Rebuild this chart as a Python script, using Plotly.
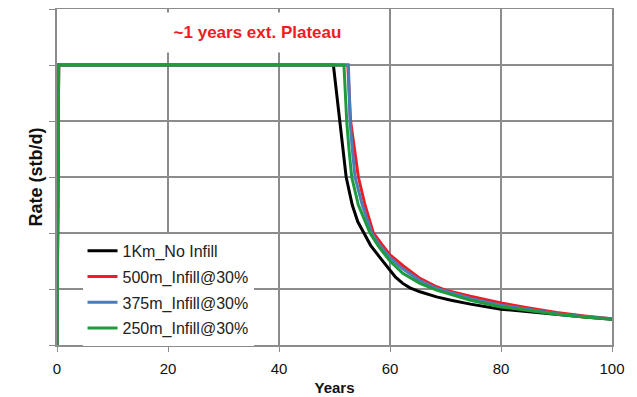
import plotly.graph_objects as go

# ---- data ----
names = ["1Km_No Infill", "500m_Infill@30%", "375m_Infill@30%", "250m_Infill@30%"]
colors = ["#000000", "#EE1C25", "#4A7EBB", "#1E9B3C"]

black_x = [0, 0.3, 49.8, 50.4, 51.0, 52.1, 53.2, 54.2, 55.3, 56.5, 58.2, 60.0, 61.0, 62.3, 63.6, 65.4, 68.4, 71.0, 74.5, 80.0, 85.0, 90.0, 95.0, 100.0]
black_y = [0, 5.0, 5.0, 4.5, 4.0, 3.0, 2.5, 2.2, 2.0, 1.78, 1.56, 1.33, 1.21, 1.10, 1.02, 0.95, 0.86, 0.80, 0.73, 0.64, 0.59, 0.54, 0.50, 0.46]

red_x = [0, 0.3, 52.4, 52.9, 53.6, 54.3, 55.5, 57.0, 58.5, 60.0, 62.3, 65.4, 68.4, 70.0, 74.5, 80.0, 85.0, 90.0, 95.0, 100.0]
red_y = [0, 5.0, 5.0, 4.0, 3.5, 3.0, 2.5, 2.0, 1.8, 1.61, 1.42, 1.19, 1.04, 0.98, 0.87, 0.75, 0.66, 0.58, 0.52, 0.47]

blue_x = [0, 0.3, 52.5, 52.8, 53.2, 53.7, 55.0, 56.7, 58.0, 60.0, 62.3, 65.4, 68.4, 70.0, 74.5, 80.0, 85.0, 90.0, 95.0, 100.0]
blue_y = [0, 5.0, 5.0, 4.0, 3.5, 3.0, 2.5, 2.0, 1.8, 1.56, 1.36, 1.15, 1.01, 0.96, 0.83, 0.71, 0.63, 0.56, 0.51, 0.47]

green_x = [0, 0.3, 51.7, 52.2, 52.6, 53.1, 54.3, 56.4, 58.0, 60.0, 62.3, 65.4, 68.4, 70.0, 74.5, 80.0, 85.0, 90.0, 95.0, 100.0]
green_y = [0, 5.0, 5.0, 4.0, 3.5, 3.0, 2.5, 2.0, 1.75, 1.50, 1.28, 1.10, 0.98, 0.93, 0.80, 0.68, 0.61, 0.55, 0.50, 0.46]

x_ticks = [0, 20, 40, 60, 80, 100]
annotation_text = "~1 years ext. Plateau"

series = [(black_x, black_y), (red_x, red_y), (blue_x, blue_y), (green_x, green_y)]

fig = go.Figure()
for i, ((xs, ys), nm, col) in enumerate(zip(series, names, colors)):
    fig.add_trace(go.Scatter(x=xs, y=ys, mode="lines", name=nm,
                             legendgroup=str(i),
                             line=dict(color=col, width=3)))

grid = "#8C8C8C"
# page body has an 8px default margin; size the figure so it fills 637x397
fig.update_layout(
    width=629, height=389,
    margin=dict(l=49, r=25, t=1, b=52),
    paper_bgcolor="white", plot_bgcolor="white",
    font=dict(family="Liberation Sans, Arial, sans-serif", color="#111111"),
    showlegend=True,
    legend=dict(x=0.046, y=0.331, xanchor="left", yanchor="top",
                bgcolor="white", font=dict(size=16, color="#222222"),
                tracegroupgap=2, traceorder="grouped",
                itemwidth=30),
    xaxis=dict(range=[0, 100], tickvals=x_ticks, showgrid=True, gridcolor=grid, gridwidth=1.5,
               showline=True, linecolor=grid, linewidth=1.5, mirror=True,
               ticks="outside", ticklen=5, tickcolor=grid, zeroline=False,
               automargin=False, ticklabelstandoff=4,
               tickfont=dict(size=15, family="Liberation Sans, Arial", color="#111111"),
               title=dict(text="<b>Years</b>", font=dict(size=15), standoff=7)),
    yaxis=dict(range=[0, 6], dtick=1, showgrid=True, gridcolor=grid, gridwidth=1.5,
               showline=True, linecolor=grid, linewidth=1.5, mirror=True,
               ticks="outside", ticklen=6, tickcolor=grid, zeroline=False,
               showticklabels=False, automargin=False,
               title=dict(text="<b>Rate (stb/d)</b>", font=dict(size=18), standoff=2)),
)
fig.update_xaxes(tickprefix="<b>", ticksuffix="</b>")

fig.add_annotation(x=0.362, y=0.93, xref="paper", yref="paper",
                   text="<b>" + annotation_text + "</b>", showarrow=False,
                   font=dict(size=17, color="#EE1C25"),
                   bgcolor="white", width=185, height=33, borderpad=3,
                   xanchor="center", yanchor="middle")

fig.write_html("out.html")
